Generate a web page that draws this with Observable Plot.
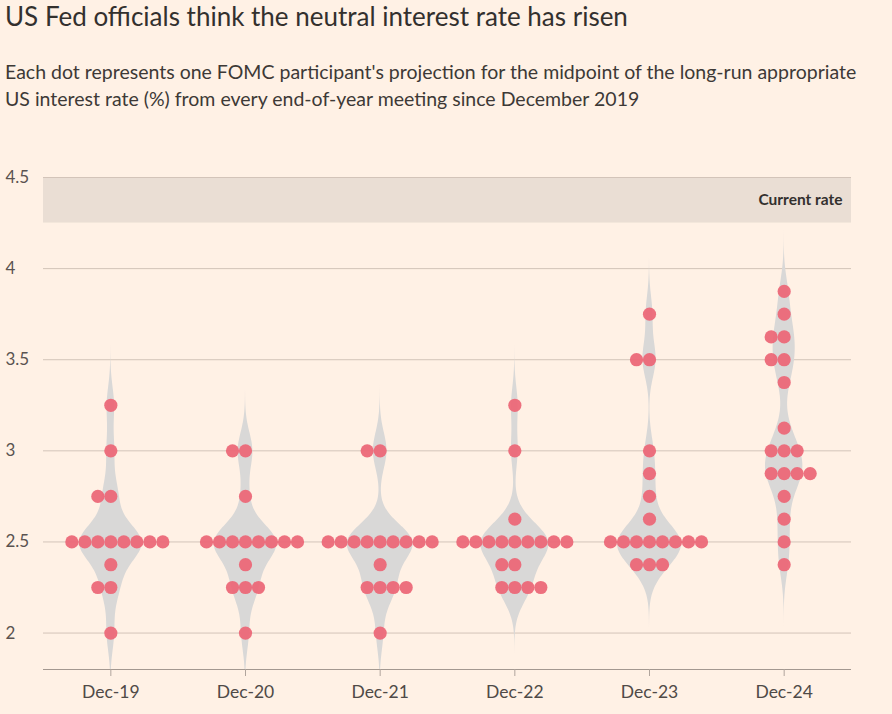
<!DOCTYPE html>
<html>
<head>
<meta charset="utf-8">
<script src="https://cdn.jsdelivr.net/npm/d3@7"></script>
<script src="https://cdn.jsdelivr.net/npm/@observablehq/plot@0.6"></script>
<style>
  body { margin: 0; background: #fff1e5; width: 892px; height: 714px; overflow: hidden; position: relative; font-family: Lato, "Noto Sans", sans-serif; color: #33302e; }
  #title { position: absolute; left: 5px; top: 1px; font-size: 26px; line-height: 30px; }
  #sub { position: absolute; left: 5px; top: 58px; font-size: 19.5px; line-height: 27px; color: #3d3936; }
  #chart { position: absolute; left: 0; top: 140px; }
</style>
</head>
<body>
<div id="title">US Fed officials think the neutral interest rate has risen</div>
<div id="sub">Each dot represents one FOMC participant's projection for the midpoint of the long-run appropriate<br>US interest rate (%) from every end-of-year meeting since December 2019</div>
<div id="chart"></div>
<script>
const meetings = ["Dec-19", "Dec-20", "Dec-21", "Dec-22", "Dec-23", "Dec-24"];
const dec19 = [3.25, 3.0, 2.75, 2.75, 2.5, 2.5, 2.5, 2.5, 2.5, 2.5, 2.5, 2.5, 2.375, 2.25, 2.25, 2.0];
const dec20 = [3.0, 3.0, 2.75, 2.5, 2.5, 2.5, 2.5, 2.5, 2.5, 2.5, 2.5, 2.375, 2.25, 2.25, 2.25, 2.0];
const dec21 = [3.0, 3.0, 2.5, 2.5, 2.5, 2.5, 2.5, 2.5, 2.5, 2.5, 2.5, 2.375, 2.25, 2.25, 2.25, 2.25, 2.0];
const dec22 = [3.25, 3.0, 2.625, 2.5, 2.5, 2.5, 2.5, 2.5, 2.5, 2.5, 2.5, 2.5, 2.375, 2.375, 2.25, 2.25, 2.25, 2.25];
const dec23 = [3.75, 3.5, 3.5, 3.0, 2.875, 2.75, 2.625, 2.5, 2.5, 2.5, 2.5, 2.5, 2.5, 2.5, 2.5, 2.375, 2.375, 2.375];
const dec24 = [3.875, 3.75, 3.625, 3.625, 3.5, 3.5, 3.375, 3.125, 3.0, 3.0, 3.0, 2.875, 2.875, 2.875, 2.875, 2.75, 2.625, 2.5, 2.375];
const currentRate = [4.25, 4.5];
const yTicks = [2, 2.5, 3, 3.5, 4, 4.5];
const yDomain = [1.8, 4.5];

const series = [dec19, dec20, dec21, dec22, dec23, dec24];

// layout constants
const W = 892, H = 574, mL = 43, mR = 41, mT = 37, mB = 45;
const unitPx = (W - mL - mR) / meetings.length;
const dotStep = 13 / unitPx;      // horizontal dot spacing in x units
const maxHalf = 34 / unitPx;      // widest violin half-width in x units

// dots: stack equal values side by side
const dots = [];
series.forEach((vals, i) => {
  const groups = d3.group(vals, v => v);
  for (const [v, arr] of groups) {
    const n = arr.length;
    const start = n === 2 ? -1 : -Math.floor((n - 1) / 2);
    arr.forEach((_, k) => {
      dots.push({i, v, x: i + (start + k) * dotStep});
    });
  }
});

// violins: gaussian kde
const h = 0.1;
const viol = [];
series.forEach((vals, i) => {
  const lo = d3.min(vals) - 0.4, hi = d3.max(vals) + 0.4;
  for (let y = lo; y <= hi + 1e-9; y += 0.004) {
    const d = d3.sum(vals, v => Math.exp(-0.5 * ((y - v) / h) ** 2)) / (vals.length * h * Math.sqrt(2 * Math.PI));
    viol.push({i, y, d});
  }
});
const maxD = d3.max(viol, d => d.d);
viol.forEach(d => d.w = d.d / maxD * maxHalf);

const chart = Plot.plot({
  width: W, height: H,
  marginLeft: mL, marginRight: mR, marginTop: mT, marginBottom: mB,
  style: {background: "transparent", fontFamily: "Lato, 'Noto Sans', sans-serif", color: "#5a5350"},
  x: {domain: [-0.5, meetings.length - 0.5], label: null},
  y: {domain: yDomain, label: null},
  marks: [
    Plot.rect([currentRate], {y1: d => d[0], y2: d => d[1], fill: "#eaded4"}),
    Plot.gridY({ticks: yTicks, stroke: "#d3c4b9", strokeOpacity: 1}),
    Plot.text(["Current rate"], {frameAnchor: "right", y: (currentRate[0] + currentRate[1]) / 2, dx: -9, textAnchor: "end", fontWeight: "bold", fontSize: 15.5, fill: "#33302e"}),
    Plot.areaX(viol, {y: "y", x1: d => d.i - d.w, x2: d => d.i + d.w, z: "i", fill: "#d9d8d7", clip: true}),
    Plot.dot(dots, {x: "x", y: "v", r: 6.6, fill: "#ec6878", fillOpacity: 0.95}),
    Plot.ruleY([yDomain[0]], {stroke: "#a39890"}),
    Plot.axisY({ticks: yTicks, tickSize: 0, tickPadding: 0, textAnchor: "start", dx: -38, fontSize: 17, color: "#5a5350", tickFormat: d => String(d)}),
    Plot.axisX({ticks: d3.range(meetings.length), tickFormat: i => meetings[i], tickSize: 7, tickPadding: 9, fontSize: 17.5, color: "#4f4a47", stroke: "#b0a59d"})
  ]
});
document.getElementById("chart").append(chart);
</script>
</body>
</html>
